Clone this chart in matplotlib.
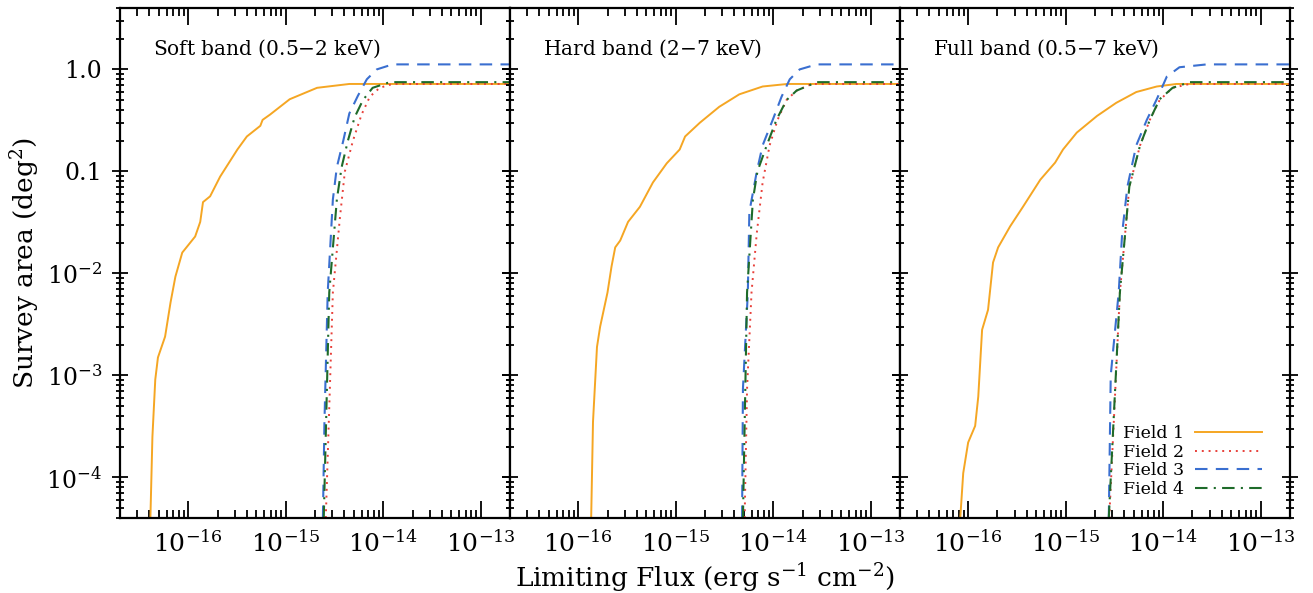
import matplotlib
matplotlib.use("Agg")
import matplotlib.pyplot as plt
from matplotlib.ticker import LogLocator, NullFormatter

plt.rcParams['font.family'] = ['DejaVu Serif']
plt.rcParams['mathtext.fontset'] = 'dejavuserif'

bands = ["Soft band (0.5$-$2 keV)", "Hard band (2$-$7 keV)", "Full band (0.5$-$7 keV)"]
field_names = ["Field 1", "Field 2", "Field 3", "Field 4"]

# soft band
soft_f1_flux = [4.1e-17, 4.3e-17, 4.6e-17, 4.9e-17, 5.8e-17, 6.6e-17, 7.4e-17, 8.7e-17, 1.18e-16, 1.33e-16,
                1.42e-16, 1.68e-16, 2.13e-16, 3.2e-16, 4.0e-16, 5.5e-16, 5.8e-16, 6.9e-16,
                1.1e-15, 2.1e-15, 4.5e-15, 2e-13]
soft_f1_area = [4e-5, 2.5e-4, 9.1e-4, 1.5e-3, 2.4e-3, 5.2e-3, 9.3e-3, 0.016, 0.023, 0.032,
                0.05, 0.057, 0.089, 0.164, 0.22, 0.28, 0.32, 0.36,
                0.51, 0.66, 0.72, 0.72]
soft_f2_flux = [2.58e-15, 3.05e-15, 3.6e-15, 4.05e-15, 4.9e-15, 6.0e-15, 7.3e-15, 9.2e-15, 1.25e-14, 2e-13]
soft_f2_area = [4e-5, 6.5e-3, 0.035, 0.1, 0.2, 0.36, 0.54, 0.66, 0.72, 0.72]
soft_f3_flux = [2.41e-15, 2.5e-15, 2.7e-15, 3.05e-15, 3.35e-15, 3.9e-15, 4.5e-15, 5.5e-15, 6.8e-15, 8.6e-15, 1.25e-14, 2e-13]
soft_f3_area = [4e-5, 3.5e-4, 6.5e-3, 0.053, 0.11, 0.2, 0.37, 0.55, 0.8, 1.0, 1.12, 1.12]
soft_f4_flux = [2.46e-15, 2.8e-15, 3.35e-15, 3.75e-15, 4.35e-15, 5.1e-15, 6.2e-15, 7.8e-15, 1.17e-14, 2e-13]
soft_f4_area = [4e-5, 6.5e-3, 0.053, 0.11, 0.2, 0.34, 0.5, 0.66, 0.75, 0.75]

# hard band
hard_f1_flux = [1.36e-16, 1.42e-16, 1.56e-16, 1.68e-16, 2.0e-16, 2.2e-16, 2.4e-16, 2.7e-16, 3.25e-16, 4.3e-16,
                5.85e-16, 8.1e-16, 1.1e-15, 1.25e-15, 1.77e-15, 2.8e-15, 4.5e-15, 7.8e-15, 1.4e-14, 2e-13]
hard_f1_area = [4e-5, 3.5e-4, 1.9e-3, 3e-3, 6.5e-3, 0.0117, 0.018, 0.021, 0.032, 0.045,
                0.078, 0.12, 0.164, 0.22, 0.30, 0.43, 0.57, 0.68, 0.72, 0.72]
hard_f2_flux = [5.1e-15, 5.4e-15, 6.0e-15, 6.8e-15, 7.8e-15, 9.2e-15, 1.11e-14, 1.37e-14, 1.74e-14, 2.5e-14, 2e-13]
hard_f2_area = [4e-5, 7.4e-4, 6.5e-3, 0.025, 0.078, 0.18, 0.32, 0.5, 0.62, 0.72, 0.72]
hard_f3_flux = [4.8e-15, 4.9e-15, 5.5e-15, 5.7e-15, 6.8e-15, 7.8e-15, 9.9e-15, 1.22e-14, 1.48e-14, 1.87e-14, 2.8e-14, 2e-13]
hard_f3_area = [4e-5, 7.4e-4, 6.5e-3, 0.04, 0.1, 0.18, 0.32, 0.54, 0.8, 1.0, 1.12, 1.12]
hard_f4_flux = [4.9e-15, 5.4e-15, 6.2e-15, 6.9e-15, 8.6e-15, 1.08e-14, 1.37e-14, 1.74e-14, 2.8e-14, 2e-13]
hard_f4_area = [4e-5, 6.5e-3, 0.053, 0.1, 0.18, 0.32, 0.5, 0.62, 0.75, 0.75]

# full band
full_f1_flux = [8.3e-17, 8.9e-17, 1.0e-16, 1.18e-16, 1.27e-16, 1.39e-16, 1.6e-16, 1.8e-16, 2.03e-16, 2.7e-16,
                3.65e-16, 5.5e-16, 7.8e-16, 9.4e-16, 1.3e-15, 2.1e-15, 3.3e-15, 5.3e-15, 8.6e-15,
                1.37e-14, 2e-13]
full_f1_area = [4e-5, 1.1e-4, 2.2e-4, 3.2e-4, 6.2e-4, 2.8e-3, 4.4e-3, 0.0128, 0.018, 0.029,
                0.045, 0.083, 0.122, 0.164, 0.24, 0.35, 0.47, 0.6, 0.68,
                0.72, 0.72]
full_f2_flux = [2.8e-15, 3.6e-15, 4.5e-15, 5.8e-15, 7.3e-15, 9.2e-15, 1.25e-14, 1.87e-14, 2e-13]
full_f2_area = [4e-5, 6.5e-3, 0.071, 0.18, 0.32, 0.5, 0.66, 0.72, 0.72]
full_f3_flux = [2.77e-15, 2.9e-15, 3.5e-15, 3.8e-15, 4.3e-15, 5.3e-15, 6.8e-15, 8.6e-15, 1.09e-14, 1.47e-14, 2.8e-14, 2e-13]
full_f3_area = [4e-5, 1e-3, 6.5e-3, 0.025, 0.071, 0.18, 0.32, 0.51, 0.85, 1.05, 1.12, 1.12]
full_f4_flux = [2.77e-15, 3.6e-15, 4.5e-15, 5.8e-15, 7.3e-15, 9.2e-15, 1.25e-14, 1.87e-14, 2e-13]
full_f4_area = [4e-5, 6.5e-3, 0.071, 0.18, 0.32, 0.51, 0.66, 0.75, 0.75]

curves = [
    [(soft_f1_flux, soft_f1_area), (soft_f2_flux, soft_f2_area), (soft_f3_flux, soft_f3_area), (soft_f4_flux, soft_f4_area)],
    [(hard_f1_flux, hard_f1_area), (hard_f2_flux, hard_f2_area), (hard_f3_flux, hard_f3_area), (hard_f4_flux, hard_f4_area)],
    [(full_f1_flux, full_f1_area), (full_f2_flux, full_f2_area), (full_f3_flux, full_f3_area), (full_f4_flux, full_f4_area)],
]

colors = ['#F5A623', '#E8403A', '#3A6FD0', '#1E6B2A']
styles = ['-', (0, (1, 2.5)), (0, (6, 4)), (0, (6, 3, 1, 3))]
widths = [1.4, 1.4, 1.5, 1.5]

fig = plt.figure(figsize=(13.13, 5.93), dpi=100)
W, H = 1313, 593
axes = []
for i in range(3):
    x0 = 120 + i * 390
    ax = fig.add_axes([x0 / W, 1 - 518 / H, 390 / W, 510 / H])
    axes.append(ax)

xticks = [1e-16, 1e-15, 1e-14, 1e-13]
xticklabels = ['$10^{-16}$', '$10^{-15}$', '$10^{-14}$', '$10^{-13}$']
yticks = [1e-4, 1e-3, 1e-2, 0.1, 1.0]
yticklabels = ['$10^{-4}$', '$10^{-3}$', '$10^{-2}$', '0.1', '1.0']

for i, ax in enumerate(axes):
    for j in range(4):
        fx, ar = curves[i][j]
        ax.plot(fx, ar, color=colors[j], linestyle=styles[j], lw=widths[j], label=field_names[j])
    ax.set_xscale('log')
    ax.set_yscale('log')
    ax.set_xlim(2e-17, 2e-13)
    ax.set_ylim(4e-5, 4.0)
    ax.set_xticks(xticks)
    ax.set_xticklabels(xticklabels)
    ax.set_yticks(yticks)
    if i == 0:
        ax.set_yticklabels(yticklabels)
    else:
        ax.set_yticklabels([])
    ax.xaxis.set_minor_locator(LogLocator(base=10, subs=range(2, 10), numticks=20))
    ax.yaxis.set_minor_locator(LogLocator(base=10, subs=range(2, 10), numticks=20))
    ax.xaxis.set_minor_formatter(NullFormatter())
    ax.yaxis.set_minor_formatter(NullFormatter())
    ax.tick_params(which='both', direction='inout', top=True, right=True, width=1.3)
    ax.tick_params(which='major', length=12, labelsize=17, pad=7)
    ax.tick_params(which='minor', length=6)
    ax.tick_params(axis='x', which='both', direction='in')
    ax.tick_params(axis='x', which='major', labelsize=18, pad=9)
    for s in ax.spines.values():
        s.set_linewidth(1.6)
    ax.text(0.085, 0.92, bands[i], transform=ax.transAxes, fontsize=14.5, va='center', ha='left')

axes[2].legend(loc='lower right', frameon=False, markerfirst=False, fontsize=12.5,
               handlelength=3.9, handletextpad=0.6, labelspacing=0.1,
               bbox_to_anchor=(0.96, 0.015), borderpad=0.2)

axes[1].set_xlabel('Limiting Flux (erg s$^{-1}$ cm$^{-2}$)', fontsize=19, labelpad=3)
axes[0].set_ylabel('Survey area (deg$^{2}$)', fontsize=19)
axes[0].yaxis.set_label_coords(-0.2, 0.5)

fig.savefig('out.png', dpi=100)
